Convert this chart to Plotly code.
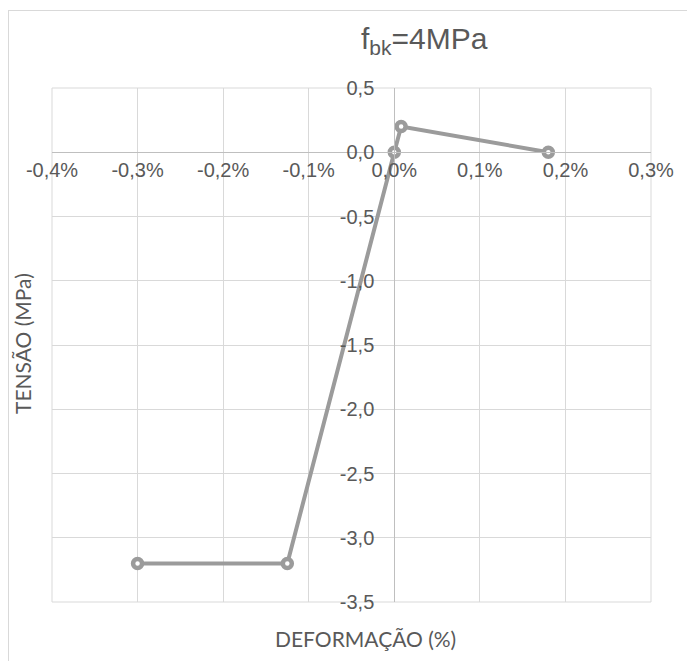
import plotly.graph_objects as go

# Data (strain as fraction, stress in MPa)
strain = [-0.0030, -0.00125, 0.0, 0.00008, 0.0018]
stress = [-3.2, -3.2, 0.0, 0.2, 0.0]

x_range = [-0.004, 0.003]
y_range = [-3.5, 0.5]
x_ticks = [-0.004, -0.003, -0.002, -0.001, 0.0, 0.001, 0.002, 0.003]
y_ticks = [0.5, 0.0, -0.5, -1.0, -1.5, -2.0, -2.5, -3.0, -3.5]
x_ticktext = [f"{v*100:.1f}%".replace(".", ",").replace("-0,0", "0,0") for v in x_ticks]
y_ticktext = [f"{v:.1f}".replace(".", ",").replace("-0,0", "0,0") for v in y_ticks]

title_text = "f<sub>bk</sub>=4MPa"
x_title = "DEFORMAÇÃO (%)"
y_title = "TENSÃO (MPa)"

W, H = 687, 661
ml, mr, mt, mb = 52, 36, 88, 59
pw = W - ml - mr
ph = H - mt - mb

def px_x(px):
    return (px - ml) / pw

def px_y(py):
    return (H - mb - py) / ph

grid_c = "#d9d9d9"
axis_c = "#bfbfbf"
line_c = "#9b9b9b"
text_c = "#595959"
font_fam = "Liberation Sans, Arial, sans-serif"
title_fam = "Lato, Calibri, sans-serif"

fig = go.Figure()
fig.add_trace(go.Scatter(
    x=strain, y=stress, mode="lines+markers",
    line=dict(color=line_c, width=4),
    marker=dict(symbol="circle", size=9, color="white",
                line=dict(color=line_c, width=4.5)),
    cliponaxis=False, showlegend=False,
))

x_pos = (0 - y_range[0]) / (y_range[1] - y_range[0])
y_pos = (0 - x_range[0]) / (x_range[1] - x_range[0])

fig.update_layout(
    width=W, height=H,
    margin=dict(l=ml, r=mr, t=mt, b=mb),
    paper_bgcolor="white", plot_bgcolor="white",
    font=dict(family=font_fam, size=20, color=text_c),
    xaxis=dict(range=x_range, tickvals=x_ticks, ticktext=x_ticktext,
               showgrid=True, gridcolor=grid_c, gridwidth=1,
               zeroline=False, showline=True, linecolor=axis_c, linewidth=1,
               anchor="free", position=x_pos, ticks="", ticklen=0,
               tickfont=dict(size=20, color=text_c)),
    yaxis=dict(range=y_range, tickvals=y_ticks, ticktext=y_ticktext,
               showgrid=True, gridcolor=grid_c, gridwidth=1,
               zeroline=False, showline=True, linecolor=axis_c, linewidth=1,
               anchor="free", position=y_pos, ticks="", ticklen=0,
               ticklabelstandoff=16,
               tickfont=dict(size=20, color=text_c)),
)

# plot area border
fig.add_shape(type="rect", xref="paper", yref="paper", x0=0, y0=0, x1=1, y1=1,
              line=dict(color=grid_c, width=1), layer="below")
# outer chart border (left and top)
fig.add_shape(type="line", xref="paper", yref="paper",
              x0=px_x(8.5), x1=px_x(8.5), y0=px_y(10), y1=px_y(700),
              line=dict(color=grid_c, width=1))
fig.add_shape(type="line", xref="paper", yref="paper",
              x0=px_x(8.5), x1=px_x(720), y0=px_y(10.5), y1=px_y(10.5),
              line=dict(color=grid_c, width=1))

fig.add_annotation(text=title_text, xref="paper", yref="paper",
                   x=px_x(424), y=px_y(40), showarrow=False,
                   font=dict(size=30, color=text_c), xanchor="center", yanchor="middle")
fig.add_annotation(text=x_title, xref="paper", yref="paper",
                   x=px_x(365), y=px_y(638), showarrow=False,
                   font=dict(family=title_fam, size=21, color=text_c),
                   xanchor="center", yanchor="middle")
fig.add_annotation(text=y_title, xref="paper", yref="paper",
                   x=px_x(22), y=px_y(344), showarrow=False, textangle=-90,
                   font=dict(family=title_fam, size=21, color=text_c),
                   xanchor="center", yanchor="middle")

fig.write_html("out.html")
